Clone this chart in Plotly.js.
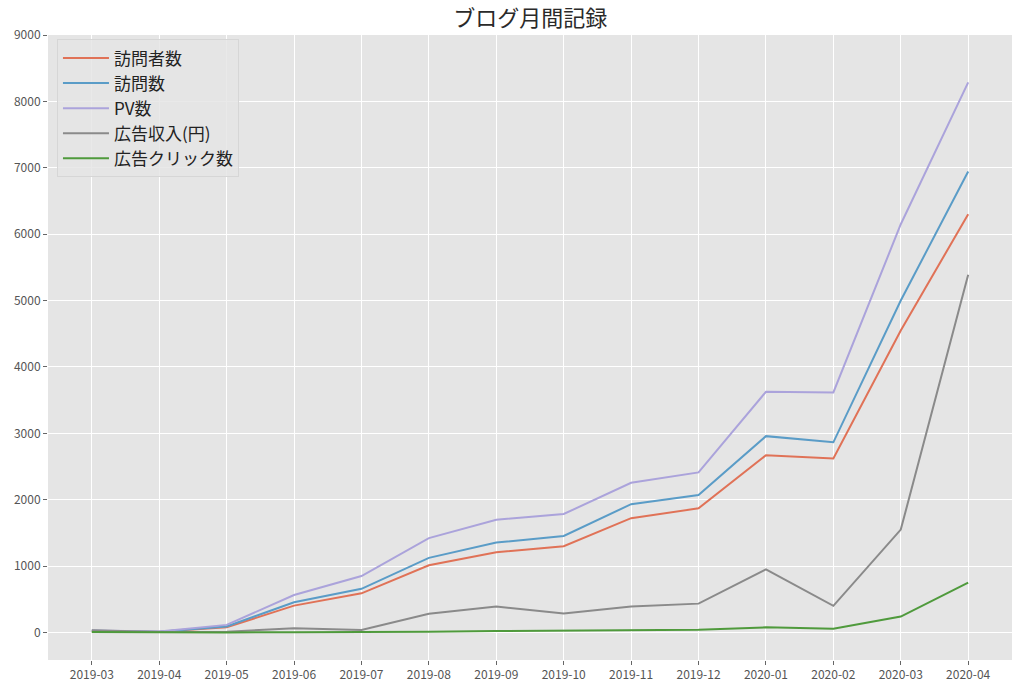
<!DOCTYPE html>
<html>
<head>
<meta charset="utf-8">
<script src="https://cdn.plot.ly/plotly-3.0.1.min.js"></script>
<style>html,body{margin:0;padding:0;background:#fff;}</style>
</head>
<body>
<div id="chart" style="width:1024px;height:689px;"></div>
<script>
var months = ["2019-03","2019-04","2019-05","2019-06","2019-07","2019-08","2019-09","2019-10","2019-11","2019-12","2020-01","2020-02","2020-03","2020-04"];
var visitors = [20, 10, 78, 405, 590, 1012, 1208, 1300, 1722, 1870, 2670, 2622, 4550, 6300];
var visits   = [25, 12, 92, 455, 658, 1125, 1355, 1455, 1933, 2070, 2958, 2865, 5000, 6945];
var pageviews= [30, 15, 115, 565, 850, 1422, 1698, 1785, 2255, 2412, 3625, 3616, 6150, 8287];
var adIncome = [35, 8, 12, 65, 38, 282, 392, 288, 390, 435, 952, 402, 1550, 5390];
var adClicks = [8, 3, 2, 5, 6, 10, 22, 30, 30, 40, 78, 58, 240, 752];
var seriesNames = ["訪問者数","訪問数","PV数","広告収入(円)","広告クリック数"];
var seriesColors = ["#E07257","#5a9cc7","#aba3db","#8a8a8a","#4f9a3c"];
var seriesData = [visitors, visits, pageviews, adIncome, adClicks];
var yTicks = [0,1000,2000,3000,4000,5000,6000,7000,8000,9000];

var traces = seriesData.map(function(d, i){
  return {
    x: months, y: d, type: "scatter", mode: "lines",
    name: seriesNames[i], legendgroup: "g"+i,
    line: {color: seriesColors[i], width: 2}
  };
});

var font = "Noto Sans CJK JP, Noto Sans, DejaVu Sans, sans-serif";
var layout = {
  width: 1024, height: 689,
  paper_bgcolor: "#ffffff", plot_bgcolor: "#e5e5e5",
  margin: {l: 48, r: 12, t: 35, b: 29},
  font: {family: font, color: "#555555", size: 12},
  title: {text: "ブログ月間記録", font: {family: font, size: 22, color: "#2a2a2a"}, x: 0.5178, xanchor: "center", y: 0.974, yanchor: "middle"},
  showlegend: true,
  legend: {
    x: 0.0093, y: 0.993, xanchor: "left", yanchor: "top",
    bgcolor: "rgba(229,229,229,0.85)", bordercolor: "#d6d6d6", borderwidth: 1,
    font: {family: font, size: 17, color: "#222222"},
    tracegroupgap: 1.5, traceorder: "normal", itemwidth: 46
  },
  xaxis: {
    type: "category", categoryorder: "array", categoryarray: months,
    range: [-0.65, 13.65], showgrid: true, gridcolor: "#ffffff", gridwidth: 1,
    zeroline: false, showline: false,
    ticks: "outside", ticklen: 4, tickcolor: "#666666", tickwidth: 1,
    tickfont: {family: font, size: 12, color: "#555555"}
  },
  yaxis: {
    range: [-414, 9000], tickmode: "array", tickvals: yTicks,
    ticktext: yTicks.map(String),
    showgrid: true, gridcolor: "#ffffff", gridwidth: 1,
    zeroline: false, showline: false,
    ticks: "outside", ticklen: 4, tickcolor: "#666666", tickwidth: 1,
    tickfont: {family: font, size: 12, color: "#555555"}
  }
};

Plotly.newPlot("chart", traces, layout, {displayModeBar: false, staticPlot: true});
</script>
</body>
</html>
